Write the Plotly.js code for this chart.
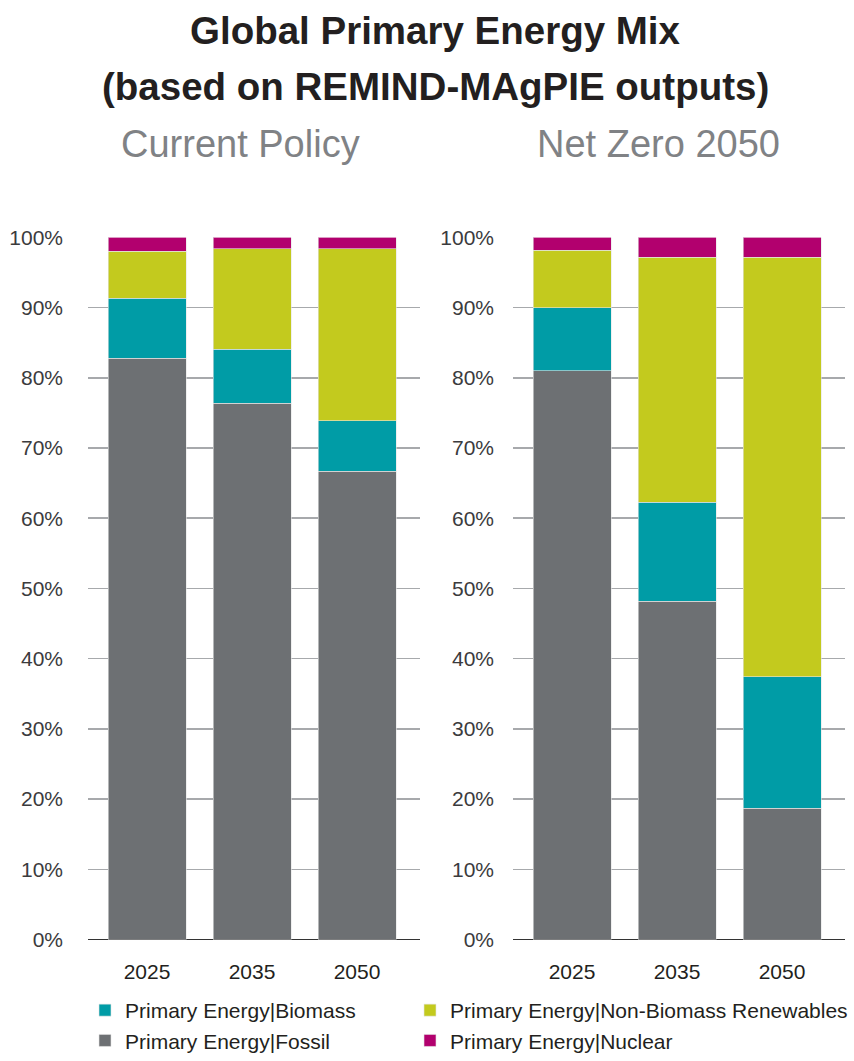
<!DOCTYPE html>
<html>
<head>
<meta charset="utf-8">
<script src="https://cdn.plot.ly/plotly-3.0.1.min.js"></script>
<style>
html,body{margin:0;padding:0;background:#fff;}
#chart{width:854px;height:1061px;}
</style>
</head>
<body>
<div id="chart"></div>
<script>
// ---- data ----
const years = ["2025", "2035", "2050"];
const scenarios = ["Current Policy", "Net Zero 2050"];
const titleLines = ["Global Primary Energy Mix", "(based on REMIND-MAgPIE outputs)"];
const seriesNames = ["Primary Energy|Fossil", "Primary Energy|Biomass", "Primary Energy|Non-Biomass Renewables", "Primary Energy|Nuclear"];
const seriesColors = ["#6d7073", "#009ca6", "#c3ca1e", "#b2006e"];
const seriesLegendRank = [3, 1, 2, 4];
const seriesLegendBox = ["legend", "legend", "legend2", "legend2"];
// shares in percent, per year
const currentFossil = [82.8, 76.4, 66.7];
const currentBiomass = [8.5, 7.7, 7.2];
const currentRenewables = [6.7, 14.3, 24.5];
const currentNuclear = [2.0, 1.6, 1.6];
const netZeroFossil = [81.0, 48.2, 18.7];
const netZeroBiomass = [9.0, 14.1, 18.7];
const netZeroRenewables = [8.2, 34.9, 59.8];
const netZeroNuclear = [1.8, 2.8, 2.8];
const yTickVals = [0, 10, 20, 30, 40, 50, 60, 70, 80, 90, 100];
const yTickText = ["0%", "10%", "20%", "30%", "40%", "50%", "60%", "70%", "80%", "90%", "100%"];

const FONT = "'Liberation Sans', Arial, sans-serif";
const currentSeries = [currentFossil, currentBiomass, currentRenewables, currentNuclear];
const netZeroSeries = [netZeroFossil, netZeroBiomass, netZeroRenewables, netZeroNuclear];

const traces = [];
[currentSeries, netZeroSeries].forEach((set, si) => {
  set.forEach((vals, i) => {
    traces.push({
      type: "bar",
      x: years,
      y: vals,
      name: seriesNames[i],
      legend: seriesLegendBox[i],
      legendgroup: seriesNames[i],
      legendrank: seriesLegendRank[i],
      showlegend: si === 0,
      xaxis: si === 0 ? "x" : "x2",
      yaxis: si === 0 ? "y" : "y2",
      width: 0.743,
      marker: {color: seriesColors[i], line: {color: "#e4e4e4", width: 0.6}},
      hoverinfo: "skip"
    });
  });
});

const yAxisBase = {
  range: [0, 100],
  tickvals: yTickVals,
  ticktext: yTickText,
  showgrid: true,
  gridcolor: "#a7a9ac",
  gridwidth: 1.5,
  zeroline: true,
  zerolinecolor: "#333333",
  zerolinewidth: 1.5,
  showline: false,
  ticks: "",
  ticklabelstandoff: 24,
  tickfont: {family: FONT, size: 21, color: "#3b3b3d"},
  fixedrange: true
};
const xAxisBase = {
  type: "category",
  range: [-0.562, 2.6],
  showgrid: false,
  zeroline: false,
  showline: false,
  ticks: "",
  ticklabelstandoff: 17,
  tickfont: {family: FONT, size: 21, color: "#231f20"},
  fixedrange: true
};

const legendBase = {
  orientation: "v",
  xanchor: "left",
  y: (1061-995)/1061, yanchor: "top",
  traceorder: "normal",
  font: {family: FONT, size: 21, color: "#231f20"},
  bgcolor: "rgba(0,0,0,0)",
  itemclick: false, itemdoubleclick: false,
  tracegroupgap: 8
};

const layout = {
  width: 854,
  height: 1061,
  margin: {l: 0, r: 0, t: 0, b: 0},
  paper_bgcolor: "#ffffff",
  plot_bgcolor: "rgba(0,0,0,0)",
  barmode: "stack",
  showlegend: true,
  xaxis: Object.assign({}, xAxisBase, {domain: [88/854, 420/854], anchor: "y"}),
  yaxis: Object.assign({}, yAxisBase, {domain: [117/1061, 822.5/1061], anchor: "x"}),
  xaxis2: Object.assign({}, xAxisBase, {domain: [513/854, 845/854], anchor: "y2"}),
  yaxis2: Object.assign({}, yAxisBase, {domain: [117/1061, 822.5/1061], anchor: "x2", ticklabelstandoff: 18}),
  annotations: [
    {text: "<b>" + titleLines[0] + "</b>", xref: "paper", yref: "paper", x: 435/854, y: (1061-31)/1061,
     xanchor: "center", yanchor: "middle", showarrow: false,
     font: {family: FONT, size: 38.5, color: "#231f20"}},
    {text: "<b>" + titleLines[1] + "</b>", xref: "paper", yref: "paper", x: 435/854, y: (1061-87)/1061,
     xanchor: "center", yanchor: "middle", showarrow: false,
     font: {family: FONT, size: 38.5, color: "#231f20"}},
    {text: scenarios[0], xref: "paper", yref: "paper", x: 241/854, y: (1061-145)/1061,
     xanchor: "center", yanchor: "middle", showarrow: false,
     font: {family: FONT, size: 38, color: "#808285"}},
    {text: scenarios[1], xref: "paper", yref: "paper", x: 658/854, y: (1061-145)/1061,
     xanchor: "center", yanchor: "middle", showarrow: false,
     font: {family: FONT, size: 38, color: "#808285"}}
  ],
  legend: Object.assign({}, legendBase, {x: 85/854}),
  legend2: Object.assign({}, legendBase, {x: 410/854})
};

Plotly.newPlot("chart", traces, layout, {staticPlot: true, displayModeBar: false});
</script>
</body>
</html>
